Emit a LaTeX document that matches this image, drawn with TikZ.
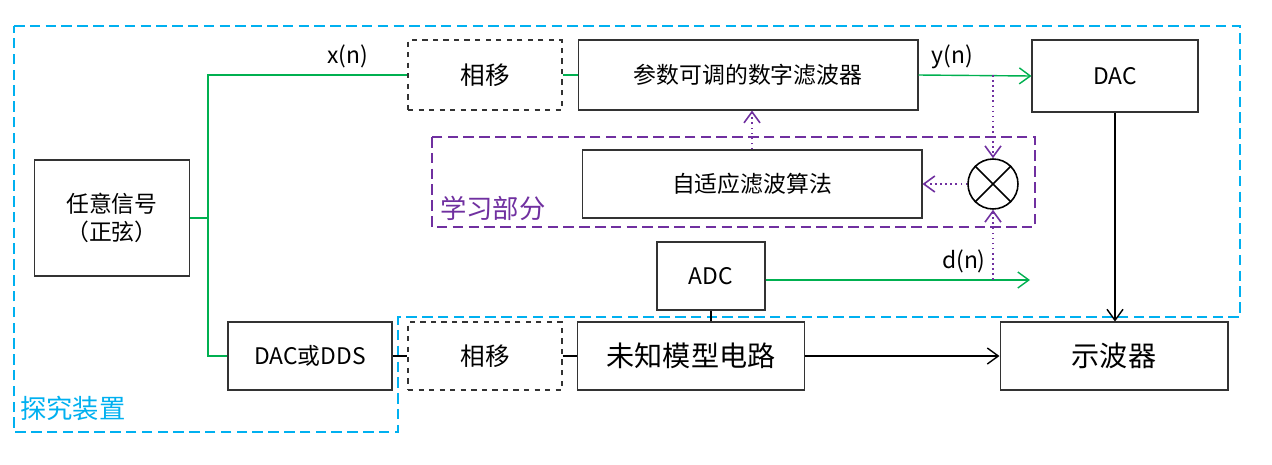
\documentclass[tikz,border=0pt]{standalone}
\usepackage{fontspec}
\setmainfont{Noto Sans CJK SC}
\usetikzlibrary{arrows.meta}
\definecolor{sgreen}{RGB}{0,176,80}
\definecolor{lpurple}{RGB}{112,48,160}
\definecolor{lblue}{RGB}{0,176,240}

\begin{document}
\begin{tikzpicture}[x=0.02cm,y=-0.02cm,
  font=\fontsize{13}{16}\selectfont,
  blk/.style={draw=black!80, line width=0.6pt, rectangle, align=center, inner sep=0pt},
  dblk/.style={blk, dashed},
  grn/.style={draw=sgreen, line width=0.8pt},
  lrn/.style={draw=lpurple, dotted, line width=0.9pt},
  >={Straight Barb[length=2.2mm,width=3.2mm]}]
 \useasboundingbox (0,0) rectangle (1272,464);

 % outer frames
 \draw[lblue, dashed, line width=0.8pt, dash pattern=on 6pt off 3pt] (14,26) -- (1240,26) -- (1240,317) -- (398,317) -- (398,432) -- (14,432) -- cycle;
 \node[lblue, anchor=west, font=\fontsize{15}{17}\selectfont] (lbl1) at (14,408) {探究装置};
 \draw[lpurple, dashed, line width=0.8pt, dash pattern=on 6pt off 3pt] (432,137) rectangle (1035,227);
 \node[lpurple, anchor=west, font=\fontsize{15}{17}\selectfont] (lbl2) at (434,208) {学习部分};

 % blocks
 \node[blk, minimum width=3.1cm, minimum height=2.32cm] (sig) at (112,218) {任意信号\\（正弦）};
 \node[dblk, minimum width=3.08cm, minimum height=1.4cm, font=\fontsize{14}{16}\selectfont] (ps1) at (485,75) {相移};
 \node[blk, minimum width=6.8cm, minimum height=1.4cm] (flt) at (748,75) {参数可调的数字滤波器};
 \node[blk, minimum width=3.32cm, minimum height=1.44cm] (dac) at (1115,76) {DAC};
 \node[blk, minimum width=6.8cm, minimum height=1.36cm] (adp) at (752,184) {自适应滤波算法};
 \node[circle, draw=black, line width=0.9pt, minimum size=1cm, inner sep=0pt] (mul) at (993,184) {};
 \draw[line width=0.9pt] (mul.north west) -- (mul.south east) (mul.north east) -- (mul.south west);
 \node[blk, minimum width=2.16cm, minimum height=1.36cm] (adc) at (711,276) {ADC};
 \node[blk, minimum width=3.28cm, minimum height=1.36cm] (dds) at (310,356) {DAC或DDS};
 \node[dblk, minimum width=3.08cm, minimum height=1.36cm, font=\fontsize{14}{16}\selectfont] (ps2) at (485,356) {相移};
 \node[blk, minimum width=4.54cm, minimum height=1.36cm, font=\fontsize{16}{18}\selectfont] (unk) at (691,356) {未知模型电路};
 \node[blk, minimum width=4.56cm, minimum height=1.36cm, font=\fontsize{16}{18}\selectfont] (osc) at (1114,356) {示波器};

 % helper points
 \coordinate (sp) at (208,218);
 \coordinate (yo) at (993,75);
 \coordinate (dend) at (1030,280);
 \coordinate (dj) at (993,280);

 % signal paths
 \draw[grn] (sig.east) -- (sp) |- node[pos=0.85, above] {x(n)} (ps1.west);
 \draw[grn] (sp) |- (dds.west);
 \draw[grn] (ps1.east) -- (flt.west);
 \draw[grn, ->] (flt.east) -- node[pos=0.3, above] {y(n)} (dac.west);
 \draw[grn, ->] (adc.east |- dend) -- node[pos=0.75, above] {d(n)} (dend);
 \draw[lrn, ->] (yo) -- (mul.north);
 \draw[lrn, ->] (dj) -- (mul.south);
 \draw[lrn, ->] (mul.west) -- (adp.east);
 \draw[lrn, ->] (adp.north) -- (adp.north |- flt.south);
 \draw[->, line width=0.8pt] (dac.south) -- (dac.south |- osc.north);
 \draw[->, line width=0.8pt] (unk.east) -- (osc.west);
 \draw[line width=0.8pt] (dds.east) -- (ps2.west);
 \draw[line width=0.8pt] (ps2.east) -- (unk.west);
 \draw[line width=0.8pt] (unk.north -| adc.south) -- (adc.south);
\end{tikzpicture}
\end{document}
